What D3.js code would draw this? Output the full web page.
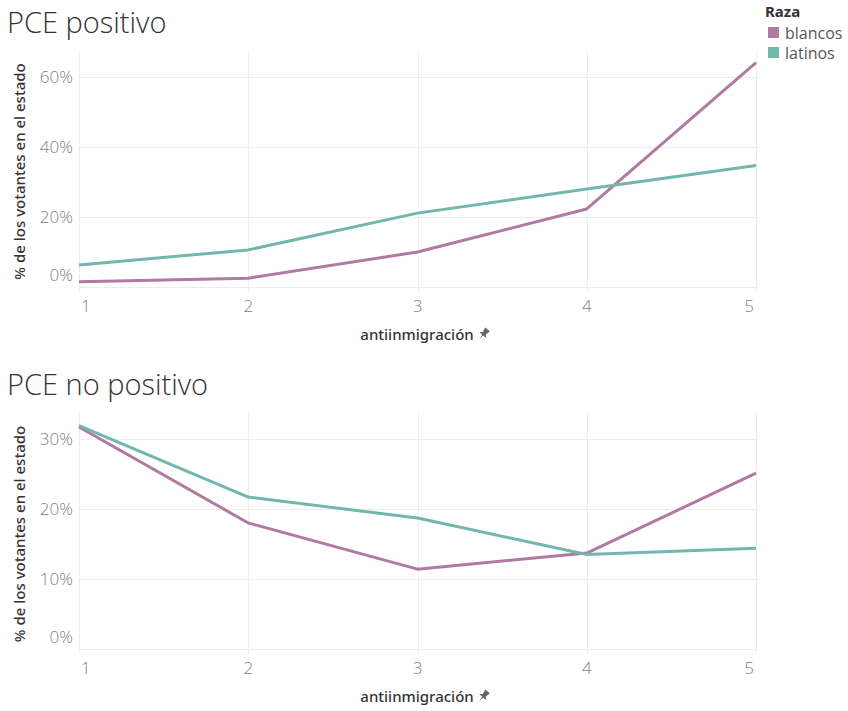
<!DOCTYPE html>
<html><head><meta charset="utf-8">
<script src="https://cdn.jsdelivr.net/npm/d3@7"></script>
<style>
body{margin:0;background:#fff;}
svg{display:block;font-family:"Noto Sans",sans-serif;}
</style></head>
<body>
<svg id="c" width="848" height="711"></svg>
<script>
const categories = [1, 2, 3, 4, 5];
const seriesNames = ["blancos", "latinos"];
const seriesColors = ["#b07aa1", "#72b7ae"];
const positivoBlancos = [1.5, 2.5, 10.0, 22.3, 64.1];
const positivoLatinos = [6.3, 10.6, 21.1, 28.0, 34.7];
const noPositivoBlancos = [31.7, 18.0, 11.4, 13.7, 25.1];
const noPositivoLatinos = [31.9, 21.7, 18.7, 13.5, 14.4];
const positivoTicks = [0, 20, 40, 60];
const noPositivoTicks = [0, 10, 20, 30];
const panelTitles = ["PCE positivo", "PCE no positivo"];
const yAxisTitle = "% de los votantes en el estado";
const xAxisTitle = "antiinmigración";
const legendTitle = "Raza";

const svg = d3.select("#c");
const x = d3.scaleLinear().domain([1, 5]).range([79, 756]);
const tickFont = "'Open Sans',sans-serif";

const panels = [
  {title: panelTitles[0], data: [positivoBlancos, positivoLatinos], ticks: positivoTicks, ymax: 67.7, top: 50, bottom: 287, titleY: 33},
  {title: panelTitles[1], data: [noPositivoBlancos, noPositivoLatinos], ticks: noPositivoTicks, ymax: 33.7, top: 413, bottom: 649, titleY: 395}
];

panels.forEach(p => {
  const y = d3.scaleLinear().domain([0, p.ymax]).range([p.bottom, p.top]);
  const g = svg.append("g");
  // title
  g.append("text").attr("x", 7).attr("y", p.titleY)
    .attr("font-family", "'Open Sans',sans-serif").attr("font-weight", 300)
    .attr("font-size", 29).attr("fill", "#333").text(p.title);
  // horizontal grid
  g.selectAll(".hg").data(p.ticks).join("line")
    .attr("x1", x(1)).attr("x2", x(5))
    .attr("y1", d => Math.round(y(d)) + 0.5).attr("y2", d => Math.round(y(d)) + 0.5)
    .attr("stroke", "#eeeeee").attr("stroke-width", 1);
  // vertical grid
  g.selectAll(".vg").data(categories).join("line")
    .attr("x1", d => Math.round(x(d)) + 0.5).attr("x2", d => Math.round(x(d)) + 0.5)
    .attr("y1", p.top).attr("y2", p.bottom + 5)
    .attr("stroke", "#eeeeee").attr("stroke-width", 1);
  // y tick labels
  g.selectAll(".yt").data(p.ticks).join("text")
    .attr("x", 73)
    .attr("y", d => d === 0 ? y(d) - 12 : y(d))
    .attr("dy", "0.35em").attr("text-anchor", "end")
    .attr("font-family", tickFont).attr("font-weight", 300)
    .attr("font-size", 17).attr("fill", "#7f7f7f")
    .text(d => d + "%");
  // x tick labels
  g.selectAll(".xt").data(categories).join("text")
    .attr("x", (d, i) => i === 0 ? x(d) + 2 : (i === categories.length - 1 ? x(d) - 2 : x(d)))
    .attr("y", p.bottom + 25)
    .attr("text-anchor", (d, i) => i === 0 ? "start" : (i === categories.length - 1 ? "end" : "middle"))
    .attr("font-family", tickFont).attr("font-weight", 300)
    .attr("font-size", 17).attr("fill", "#7f7f7f")
    .text(d => d);
  // y axis title
  const cy = (p.top + p.bottom) / 2 + 3;
  g.append("text").attr("transform", `translate(25,${cy}) rotate(-90)`)
    .attr("text-anchor", "middle").attr("font-size", 15).attr("font-weight", 500)
    .attr("fill", "#333").text(yAxisTitle);
  // x axis title + pin
  const xt = g.append("text").attr("x", 417).attr("y", p.bottom + 53)
    .attr("text-anchor", "middle").attr("font-size", 15).attr("font-weight", 500)
    .attr("fill", "#333").text(xAxisTitle);
  const bb = xt.node().getBBox();
  const px = bb.x + bb.width + 10, py = p.bottom + 47;
  g.append("path")
    .attr("transform", `translate(${px},${py}) rotate(40)`)
    .attr("d", "M-3,-6 L3,-6 L2,-1 L4.5,1.5 L-4.5,1.5 L-2,-1 Z M-0.6,1.5 L0.6,1.5 L0,7 Z")
    .attr("fill", "#666");
  // lines
  const line = d3.line().x((d, i) => x(categories[i])).y(d => y(d));
  p.data.forEach((vals, si) => {
    g.append("path").datum(vals).attr("d", line)
      .attr("fill", "none").attr("stroke", seriesColors[si])
      .attr("stroke-width", 3).attr("stroke-linejoin", "round");
  });
});

// legend
const lg = svg.append("g");
lg.append("text").attr("x", 765).attr("y", 17).attr("font-size", 15)
  .attr("font-weight", 700).attr("fill", "#333").text(legendTitle);
seriesNames.forEach((n, i) => {
  lg.append("rect").attr("x", 768).attr("y", 27 + i * 20).attr("width", 11).attr("height", 11)
    .attr("fill", seriesColors[i]);
  lg.append("text").attr("x", 785).attr("y", 33 + i * 20).attr("dy", "0.35em")
    .attr("font-family", tickFont).attr("font-size", 16).attr("fill", "#555").text(n);
});
</script>
</body></html>
